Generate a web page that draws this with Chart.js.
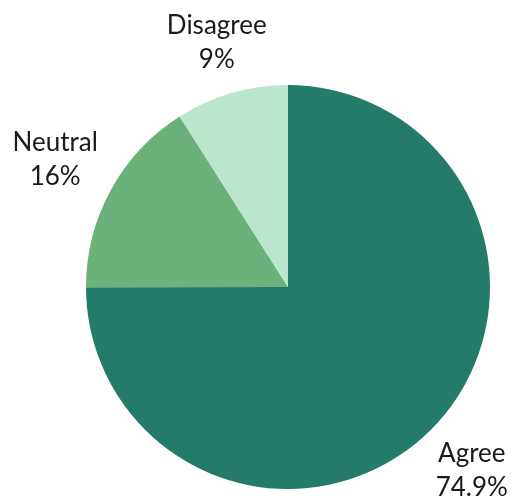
<!DOCTYPE html>
<html>
<head>
<meta charset="utf-8">
<script src="https://cdn.jsdelivr.net/npm/chart.js@4"></script>
<style>
  html, body { margin: 0; padding: 0; background: #ffffff; }
  #wrap { width: 514px; height: 500px; }
</style>
</head>
<body>
<div id="wrap"><canvas id="c" width="514" height="500"></canvas></div>
<script>
const categories = ["Agree", "Neutral", "Disagree"];
const values = [74.9, 16, 9];
const valueLabels = ["74.9%", "16%", "9%"];
const colors = ["#247b69", "#6bb17c", "#b9e6cd"];

const outsideLabels = {
  id: 'outsideLabels',
  afterDatasetsDraw(chart) {
    const ctx = chart.ctx;
    const meta = chart.getDatasetMeta(0);
    ctx.save();
    ctx.font = '26px Lato, "Open Sans", sans-serif';
    ctx.fillStyle = '#1a1a1a';
    ctx.textAlign = 'center';
    ctx.textBaseline = 'middle';
    const lh = 34;
    meta.data.forEach((arc, i) => {
      const p = arc.getProps(['x', 'y', 'startAngle', 'endAngle', 'outerRadius'], true);
      const mid = (p.startAngle + p.endAngle) / 2;
      const hw = Math.max(ctx.measureText(categories[i]).width, ctx.measureText(valueLabels[i]).width) / 2;
      const hh = lh / 2 + 10;
      const dist = p.outerRadius * 1.065 + Math.abs(Math.cos(mid)) * hw + Math.abs(Math.sin(mid)) * hh;
      const cx = p.x + Math.cos(mid) * dist;
      const cy = p.y + Math.sin(mid) * dist;
      ctx.fillText(categories[i], cx, cy - lh / 2);
      ctx.fillText(valueLabels[i], cx, cy + lh / 2);
    });
    ctx.restore();
  }
};

new Chart(document.getElementById('c'), {
  type: 'pie',
  data: {
    labels: categories,
    datasets: [{
      data: values,
      backgroundColor: colors,
      borderWidth: 0
    }]
  },
  options: {
    responsive: false,
    animation: false,
    devicePixelRatio: 1,
    layout: { padding: { top: 85, bottom: 11, left: 86, right: 24 } },
    plugins: {
      legend: { display: false },
      tooltip: { enabled: false }
    }
  },
  plugins: [outsideLabels]
});
</script>
</body>
</html>
